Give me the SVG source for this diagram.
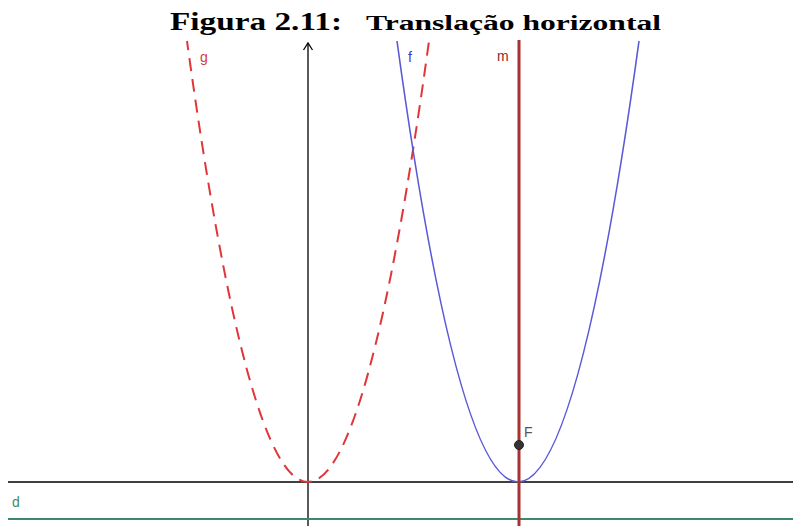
<svg xmlns="http://www.w3.org/2000/svg" width="793" height="526" viewBox="0 0 793 526">
<style>
.lbl{font-family:"Liberation Sans",Arial,sans-serif;font-size:14px}
.ttl{font-family:"Liberation Serif","Times New Roman",serif;font-weight:bold;fill:#000}
</style>
<rect width="793" height="526" fill="#fff"/>
<g id="title">
<text class="ttl" x="170" y="30" font-size="26" textLength="172" lengthAdjust="spacingAndGlyphs">Figura 2.11:</text>
<text class="ttl" x="366" y="30" font-size="20" textLength="295" lengthAdjust="spacingAndGlyphs">Translação horizontal</text>
</g>
<g id="connectors">
<g id="axes" fill="none" stroke="#000" stroke-width="1.3">
<line x1="8" y1="482" x2="793" y2="482"/>
<line x1="308" y1="43" x2="308" y2="526"/>
<path d="M303.5,50 L308,43 L312.5,50"/>
</g>
<g id="line-d">
<line x1="8" y1="519" x2="793" y2="519" stroke="#3c8a6a" stroke-width="2"/>
<text class="lbl" x="12" y="507" fill="#3c8a6a">d</text>
</g>
<g id="curve-g">
<path d="M187,41 Q308,923 429,41" fill="none" stroke="#e0363a" stroke-width="2" stroke-dasharray="13,8" stroke-dashoffset="4"/>
<text class="lbl" x="200" y="62" fill="#d33a3a">g</text>
</g>
<g id="curve-f">
<path d="M397,41 Q518,923 639,41" fill="none" stroke="#5a5ad8" stroke-width="1.6"/>
<text class="lbl" x="408" y="62" fill="#3a3ac8">f</text>
</g>
<g id="line-m">
<line x1="519" y1="40" x2="519" y2="526" stroke="#a83232" stroke-width="3"/>
<text class="lbl" x="497" y="61" fill="#8a2a2a">m</text>
</g>
</g>
<g id="point-F">
<circle cx="519" cy="445" r="4.5" fill="#333" stroke="#222" stroke-width="1"/>
<text class="lbl" x="524" y="437" fill="#555">F</text>
</g>
</svg>
